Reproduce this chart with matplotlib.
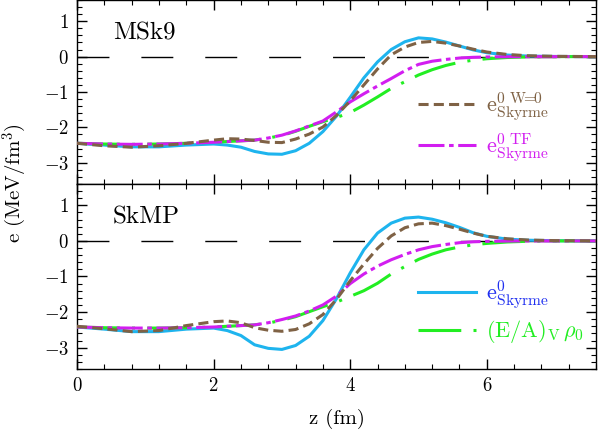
"""Surface energy density profiles e(z) for MSk9 and SkMP."""
import matplotlib
matplotlib.use("Agg")
import matplotlib.pyplot as plt
from matplotlib.ticker import MultipleLocator

plt.rcParams["font.family"] = "serif"
plt.rcParams["font.serif"] = ["cmr10", "DejaVu Serif"]
plt.rcParams["mathtext.fontset"] = "cm"
plt.rcParams["axes.formatter.use_mathtext"] = True

# ── Data ─────────────────────────────────────────────────────────────────────
z = [0, 0.4, 0.8, 1.2, 1.6, 2.0, 2.2, 2.4, 2.6, 2.8, 3.0, 3.2, 3.4, 3.6, 3.8,
     4.0, 4.2, 4.4, 4.6, 4.8, 5.0, 5.2, 5.4, 5.6, 5.8, 6.0, 6.3, 6.6, 7.0, 7.6]

msk9_e0 = [-2.45, -2.50, -2.55, -2.55, -2.50, -2.47, -2.50, -2.56, -2.68, -2.75,
           -2.76, -2.66, -2.45, -2.12, -1.68, -1.15, -0.60, -0.15, 0.20, 0.42,
           0.53, 0.50, 0.41, 0.30, 0.19, 0.11, 0.045, 0.015, 0.005, 0.0]
msk9_w0 = [-2.45, -2.52, -2.56, -2.52, -2.45, -2.36, -2.32, -2.33, -2.37, -2.42,
           -2.43, -2.33, -2.19, -1.99, -1.66, -1.25, -0.80, -0.35, 0.05, 0.27,
           0.40, 0.43, 0.38, 0.30, 0.21, 0.13, 0.06, 0.025, 0.008, 0.0]
msk9_tf = [-2.45, -2.47, -2.48, -2.47, -2.45, -2.42, -2.40, -2.38, -2.36, -2.30,
           -2.22, -2.10, -1.96, -1.82, -1.56, -1.28, -1.05, -0.83, -0.62, -0.40,
           -0.22, -0.13, -0.08, -0.04, -0.02, -0.01, -0.004, 0.0, 0.0, 0.0]
msk9_ev = [-2.45, -2.47, -2.48, -2.47, -2.45, -2.42, -2.40, -2.38, -2.36, -2.30,
           -2.23, -2.11, -1.97, -1.84, -1.72, -1.58, -1.37, -1.14, -0.90, -0.71,
           -0.52, -0.37, -0.25, -0.16, -0.10, -0.06, -0.025, -0.01, 0.0, 0.0]

skmp_e0 = [-2.42, -2.48, -2.55, -2.55, -2.48, -2.45, -2.52, -2.66, -2.92, -3.02,
           -3.05, -2.94, -2.68, -2.24, -1.62, -0.90, -0.25, 0.22, 0.50, 0.64,
           0.67, 0.61, 0.51, 0.38, 0.23, 0.13, 0.05, 0.02, 0.005, 0.0]
skmp_w0 = [-2.40, -2.47, -2.55, -2.52, -2.38, -2.27, -2.25, -2.30, -2.44, -2.51,
           -2.54, -2.49, -2.33, -2.07, -1.64, -1.12, -0.65, -0.21, 0.14, 0.37,
           0.48, 0.50, 0.43, 0.33, 0.22, 0.13, 0.06, 0.025, 0.008, 0.0]
skmp_tf = [-2.42, -2.44, -2.45, -2.45, -2.44, -2.42, -2.40, -2.38, -2.36, -2.30,
           -2.21, -2.11, -1.97, -1.80, -1.55, -1.20, -0.93, -0.71, -0.53, -0.38,
           -0.25, -0.16, -0.10, -0.05, -0.025, -0.012, -0.004, 0.0, 0.0, 0.0]
skmp_ev = [-2.42, -2.44, -2.45, -2.45, -2.44, -2.42, -2.40, -2.38, -2.36, -2.31,
           -2.23, -2.13, -1.99, -1.85, -1.72, -1.56, -1.40, -1.19, -0.93, -0.72,
           -0.52, -0.37, -0.25, -0.17, -0.11, -0.07, -0.03, -0.01, 0.0, 0.0]

PANELS = [
    ("MSk9", msk9_e0, msk9_w0, msk9_tf, msk9_ev),
    ("SkMP", skmp_e0, skmp_w0, skmp_tf, skmp_ev),
]

BLUE, BROWN, MAGENTA, GREEN = "#1eb4ee", "#7f6245", "#d21ef0", "#22ee22"
LW = 2.2

LBL_E0 = r"$\mathrm{e}^{0}_{\mathrm{Skyrme}}$"
LBL_W0 = r"$\mathrm{e}^{0\ \mathrm{W}\!\!=\!\!0}_{\mathrm{Skyrme}}$"
LBL_TF = r"$\mathrm{e}^{0\ \mathrm{TF}}_{\mathrm{Skyrme}}$"
LBL_EV = r"$(\mathrm{E/A})_{\mathrm{V}}\,\rho_0$"

# ── Figure ───────────────────────────────────────────────────────────────────
fig = plt.figure(figsize=(5.98, 4.36), dpi=100)
ax_top = fig.add_axes([0.1288, 0.578, 0.868, 0.422])
ax_bot = fig.add_axes([0.1288, 0.1537, 0.868, 0.4243])

for ax, (name, e0, w0, tf, ev) in zip([ax_top, ax_bot], PANELS):
    ax.plot([0, 7.6], [0, 0], color="black", lw=1.0, dashes=(23, 23), zorder=1)
    h_e0, = ax.plot(z, e0, color=BLUE, lw=LW, zorder=2)
    h_ev, = ax.plot(z, ev, color=GREEN, lw=LW, dashes=(14, 4, 1, 4), zorder=3)
    h_tf, = ax.plot(z, tf, color=MAGENTA, lw=LW, dashes=(8.5, 1.5, 1.5, 1.5), zorder=4)
    h_w0, = ax.plot(z, w0, color=BROWN, lw=LW, dashes=(3.3, 1.7), zorder=5)

    ax.set_xlim(0, 7.6)
    ax.set_ylim(-3.6, 1.6)
    ax.xaxis.set_major_locator(MultipleLocator(2))
    ax.xaxis.set_minor_locator(MultipleLocator(0.4))
    ax.yaxis.set_major_locator(MultipleLocator(1))
    ax.yaxis.set_minor_locator(MultipleLocator(0.2))
    ax.tick_params(which="both", direction="in", top=True, right=True, labelsize=13.5)
    ax.tick_params(which="major", length=7, width=1, pad=6)
    ax.tick_params(which="minor", length=3.5, width=0.8)
    for sp in ax.spines.values():
        sp.set_linewidth(1.0)
    ax.text(0.069, 0.82, name, transform=ax.transAxes, fontsize=18,
            ha="left", va="center")

    if ax is ax_top:
        handles, labels, colors = [h_w0, h_tf], [LBL_W0, LBL_TF], [BROWN, MAGENTA]
    else:
        handles, labels, colors = [h_e0, h_ev], [LBL_E0, LBL_EV], ["#2030f0", GREEN]
    ax.legend(handles, labels, loc="center left", bbox_to_anchor=(0.627, 0.31),
              frameon=False, fontsize=16, handlelength=2.6, handletextpad=0.45,
              labelspacing=0.35, labelcolor=colors, borderpad=0.2)

ax_top.tick_params(labelbottom=False)
ax_bot.set_xlabel("z (fm)", fontsize=15, labelpad=10)
fig.text(0.025, 0.58, r"e (MeV/fm$^3$)", rotation=90, fontsize=15,
         ha="center", va="center")

fig.savefig("out.png", dpi=100)
